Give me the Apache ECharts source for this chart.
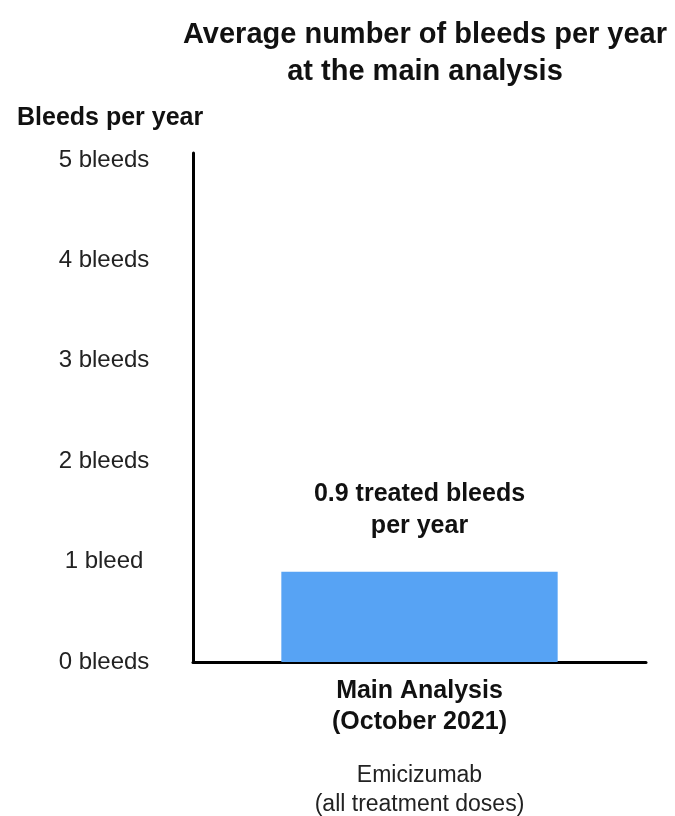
<!DOCTYPE html>
<html>
<head>
<meta charset="utf-8">
<script src="https://cdn.jsdelivr.net/npm/echarts@6/dist/echarts.min.js"></script>
<style>
  html, body { margin: 0; padding: 0; background: #fff; }
  #chart { width: 675px; height: 816px; }
</style>
</head>
<body>
<div id="chart"></div>
<script>
// Average treated bleeds per year, main analysis
const categories = ['Main Analysis'];
const bleedsPerYear = [0.9];
const yTickLabels = ['0 bleeds', '1 bleed', '2 bleeds', '3 bleeds', '4 bleeds', '5 bleeds'];

const FONT = '"Liberation Sans", Arial, Helvetica, sans-serif';

const chart = echarts.init(document.getElementById('chart'), null, { renderer: 'canvas' });

chart.setOption({
  backgroundColor: '#ffffff',
  animation: false,
  title: [
    {
      text: 'Average number of bleeds per year\nat the main analysis',
      left: 420,
      top: 11,
      textAlign: 'center',
      textStyle: {
        fontFamily: FONT,
        fontWeight: 'bold',
        fontSize: 29,
        lineHeight: 37,
        color: '#111'
      }
    },
    {
      text: 'Bleeds per year',
      left: 12,
      top: 99,
      textStyle: {
        fontFamily: FONT,
        fontWeight: 'bold',
        fontSize: 25,
        lineHeight: 28,
        color: '#111'
      }
    }
  ],
  grid: {
    left: 193,
    right: 29,
    top: 153,
    bottom: 153
  },
  xAxis: {
    type: 'category',
    data: categories,
    axisLine: { show: true, lineStyle: { color: '#000', width: 3 } },
    axisTick: { show: false },
    axisLabel: {
      margin: 14,
      interval: 0,
      formatter: function () {
        return '{b|Main Analysis}\n{b|(October 2021)}\n{s| }\n{r|Emicizumab}\n{r|(all treatment doses)}';
      },
      rich: {
        b: { fontFamily: FONT, fontWeight: 'bold', fontSize: 25, lineHeight: 31, color: '#111' },
        s: { fontFamily: FONT, fontSize: 10, lineHeight: 23 },
        r: { fontFamily: FONT, fontSize: 23, lineHeight: 29, color: '#222' }
      }
    }
  },
  yAxis: {
    type: 'value',
    min: 0,
    max: 5.07,
    interval: 1,
    splitLine: { show: false },
    axisTick: { show: false },
    axisLine: { show: true, lineStyle: { color: '#000', width: 3 } },
    axisLabel: {
      margin: 89,
      align: 'center',
      showMaxLabel: false,
      fontFamily: FONT,
      fontSize: 24,
      color: '#222',
      formatter: function (v) {
        const i = Math.round(v);
        return Math.abs(v - i) < 1e-6 && yTickLabels[i] !== undefined ? yTickLabels[i] : '';
      }
    }
  },
  series: [
    {
      type: 'bar',
      data: bleedsPerYear,
      barWidth: '61%',
      itemStyle: { color: '#57a3f4' },
      label: {
        show: true,
        position: 'top',
        distance: 30,
        formatter: function (p) {
          return p.value + ' treated bleeds\nper year';
        },
        fontFamily: FONT,
        fontWeight: 'bold',
        fontSize: 25,
        lineHeight: 32,
        color: '#111'
      }
    }
  ]
});
</script>
</body>
</html>
